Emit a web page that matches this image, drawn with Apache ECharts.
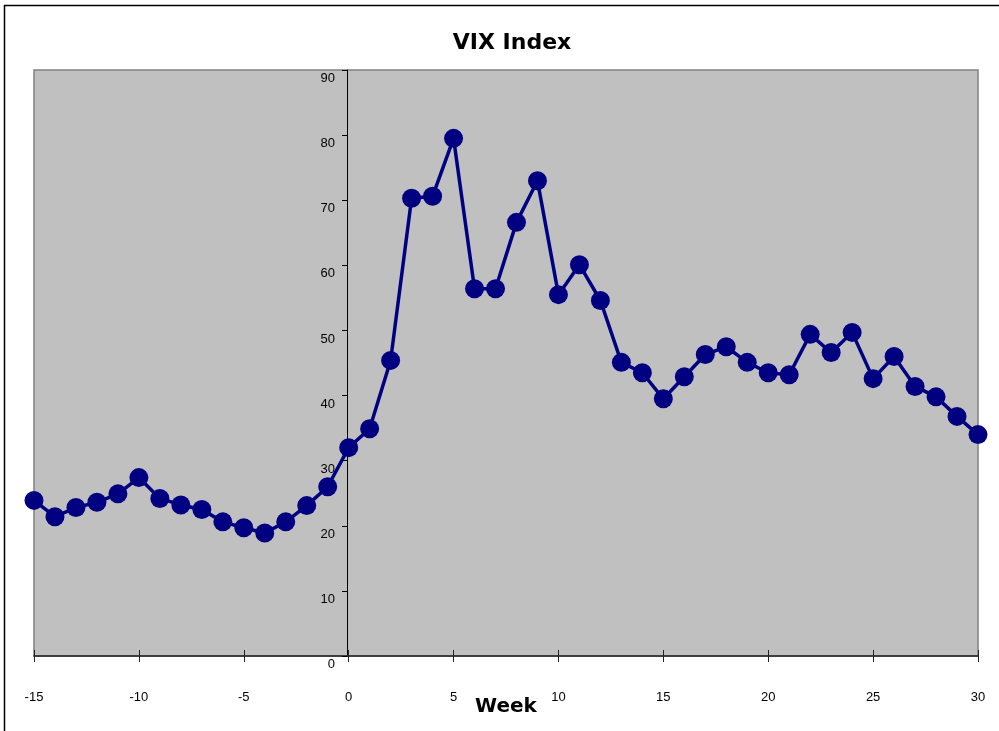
<!DOCTYPE html>
<html>
<head>
<meta charset="utf-8">
<script src="https://cdn.jsdelivr.net/npm/echarts@6/dist/echarts.min.js"></script>
<style>html,body{margin:0;padding:0;background:#fff}#c{width:999px;height:731px}</style>
</head>
<body>
<div id="c"></div>
<script>
const weeks = [-15,-14,-13,-12,-11,-10,-9,-8,-7,-6,-5,-4,-3,-2,-1,0,1,2,3,4,5,6,7,8,9,10,11,12,13,14,15,16,17,18,19,20,21,22,23,24,25,26,27,28,29,30,31];
const vix = [23.9,21.4,22.8,23.6,24.9,27.4,24.2,23.2,22.5,20.6,19.7,18.9,20.6,23.1,26.0,32.0,34.9,45.4,70.3,70.6,79.5,56.4,56.4,66.6,73.0,55.5,60.1,54.6,45.1,43.5,39.5,42.9,46.3,47.5,45.1,43.5,43.2,49.4,46.6,49.7,42.6,46.0,41.4,39.8,36.8,34.0,36.1];
const xTicks = {min:-15, max:30, interval:5};
const yTicks = {min:0, max:90, interval:10};
const titleText = 'VIX Index';
const xName = 'Week';

const FONT = '"Liberation Sans", Arial, sans-serif';
const BOLDFONT = '"DejaVu Sans", sans-serif';
const chart = echarts.init(document.getElementById('c'), null, {renderer:'canvas'});
const data = weeks.map((w,i)=> w > xTicks.max ? {value:[w, vix[i]], symbol:'none'} : [w, vix[i]]);

chart.setOption({
  animation:false,
  backgroundColor:'#fff',
  title:{text:titleText, left:507, top:27, textAlign:'center',
    textStyle:{fontFamily:BOLDFONT, fontSize:22, fontWeight:'bold', color:'#000'}},
  graphic:[{type:'rect', shape:{x:4.5,y:5.5,width:1200,height:1000}, style:{fill:'none', stroke:'#000', lineWidth:1.5}, silent:true}],
  grid:{left:34, right:21, top:70, bottom:75, outerBoundsMode:'none', containLabel:false,
    show:true, backgroundColor:'#C0C0C0', borderColor:'#808080', borderWidth:1.5},
  xAxis:[{
    type:'value', min:xTicks.min, max:xTicks.max, interval:xTicks.interval, position:'bottom',
    name:xName, nameLocation:'middle', nameGap:41, nameMoveOverlap:false,
    nameTextStyle:{fontFamily:BOLDFONT, fontSize:20, fontWeight:'bold', color:'#000'},
    axisLine:{onZero:false, lineStyle:{color:'#222', width:1.5}},
    axisTick:{show:true, inside:false, length:6, lineStyle:{color:'#222', width:1}},
    axisLabel:{margin:35, fontFamily:FONT, fontSize:13, color:'#000'},
    splitLine:{show:false}
  },{
    type:'value', min:xTicks.min, max:xTicks.max, interval:xTicks.interval, position:'top', offset:-586,
    axisLine:{show:false},
    axisTick:{show:true, inside:false, length:6, lineStyle:{color:'#222', width:1}},
    axisLabel:{show:false}, splitLine:{show:false}
  }],
  yAxis:{
    type:'value', min:yTicks.min, max:yTicks.max, interval:yTicks.interval,
    position:'left', offset:-313,
    axisLine:{show:true, onZero:false, lineStyle:{color:'#000', width:1}},
    axisTick:{show:true, inside:false, length:5, lineStyle:{color:'#000'}},
    axisLabel:{margin:12, fontFamily:FONT, fontSize:13, color:'#000', verticalAlign:'top', padding:[2,0,0,0]},
    splitLine:{show:false}
  },
  series:[{
    type:'line', xAxisIndex:0, data:data, clip:false,
    symbol:'circle', symbolSize:19,
    lineStyle:{color:'#000080', width:3.5},
    itemStyle:{color:'#000080'}
  }]
});
</script>
</body>
</html>
